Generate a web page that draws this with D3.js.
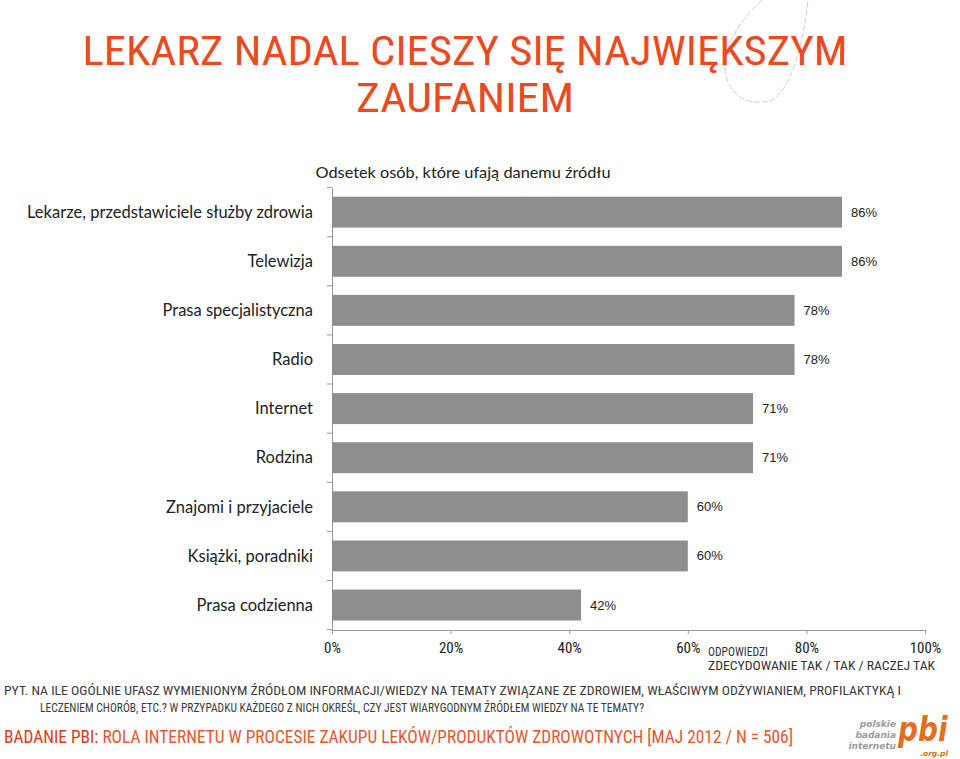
<!DOCTYPE html>
<html><head><meta charset="utf-8">
<script src="https://cdn.jsdelivr.net/npm/d3@7"></script>
<style>
html,body{margin:0;padding:0;background:#fff;}
svg{display:block;}
</style></head>
<body>
<script>
const categories = ["Lekarze, przedstawiciele służby zdrowia","Telewizja","Prasa specjalistyczna","Radio","Internet","Rodzina","Znajomi i przyjaciele","Książki, poradniki","Prasa codzienna"];
const values = [86,86,78,78,71,71,60,60,42];
const valueLabels = ["86%","86%","78%","78%","71%","71%","60%","60%","42%"];
const tickValues = [0,20,40,60,80,100];
const tickLabels = ["0%","20%","40%","60%","80%","100%"];
const titleLines = ["LEKARZ NADAL CIESZY SIĘ NAJWIĘKSZYM","ZAUFANIEM"];
const subtitle = "Odsetek osób, które ufają danemu źródłu";
const axisNote = ["ODPOWIEDZI","ZDECYDOWANIE TAK / TAK / RACZEJ TAK"];
const question = ["PYT. NA ILE OGÓLNIE UFASZ WYMIENIONYM ŹRÓDŁOM INFORMACJI/WIEDZY NA TEMATY ZWIĄZANE ZE ZDROWIEM, WŁAŚCIWYM ODŻYWIANIEM, PROFILAKTYKĄ I","LECZENIEM CHORÓB, ETC.? W PRZYPADKU KAŻDEGO Z NICH OKREŚL, CZY JEST WIARYGODNYM ŹRÓDŁEM WIEDZY NA TE TEMATY?"];
const sourceHead = "BADANIE PBI:";
const sourceRest = " ROLA INTERNETU W PROCESIE ZAKUPU LEKÓW/PRODUKTÓW ZDROWOTNYCH [MAJ 2012 / N = 506]";

const W = 960, H = 759;
const orange = "#EA4A1E";
const cond = "'Liberation Sans Narrow','Roboto Condensed','Liberation Sans',sans-serif";
const body = "Lato,'Open Sans',sans-serif";

const svg = d3.select("body").append("svg").attr("width", W).attr("height", H);

// decorative curve
svg.append("path")
  .attr("d","M762,0 C735,25 718,55 728,82 C735,100 755,106 772,100 C792,88 803,45 808,0")
  .attr("fill","none").attr("stroke","#cfcfcf").attr("stroke-width",1)
  .attr("stroke-dasharray","6,2");

// title
const tl = svg.append("g");
tl.append("text").attr("x",465).attr("y",65).attr("text-anchor","middle")
  .attr("font-family",cond).attr("font-size",40).attr("fill",orange)
  .attr("textLength",765).attr("lengthAdjust","spacingAndGlyphs").text(titleLines[0]);
tl.append("text").attr("x",465).attr("y",112).attr("text-anchor","middle")
  .attr("font-family",cond).attr("font-size",40).attr("fill",orange)
  .attr("textLength",218).attr("lengthAdjust","spacingAndGlyphs").text(titleLines[1]);

svg.append("text").attr("x",463).attr("y",178).attr("text-anchor","middle")
  .attr("font-family",body).attr("font-size",16).attr("fill","#222")
  .attr("textLength",295).attr("lengthAdjust","spacingAndGlyphs").text(subtitle);

// scales
const x = d3.scaleLinear().domain([0,100]).range([332,925]);
const y = d3.scaleBand().domain(categories).range([187.6,629.6]).paddingInner(0.37).paddingOuter(0.185);

// x axis
const xAxis = d3.axisBottom(x).tickValues(tickValues).tickSize(4).tickFormat((d,i)=>tickLabels[i]);
const gx = svg.append("g").attr("transform","translate(0,630)").call(xAxis);
gx.select(".domain").attr("stroke","#999");
gx.selectAll(".tick line").attr("stroke","#999");
gx.selectAll(".tick text").attr("font-family",cond).attr("font-size",15).attr("fill","#222").attr("dy","1.05em");

// y axis
const yAxis = d3.axisLeft(y).tickSize(0).tickFormat("");
const gy = svg.append("g").attr("transform","translate(332,0)").call(yAxis);
gy.select(".domain").attr("stroke","#999");
const step = y.step();
const bounds = d3.range(categories.length+1).map(i => 187.6 + i*step);
svg.append("g").selectAll("line").data(bounds).join("line")
  .attr("x1",327).attr("x2",332).attr("y1",d=>d).attr("y2",d=>d).attr("stroke","#999");

// category labels
svg.append("g").selectAll("text").data(categories).join("text")
  .attr("x",313).attr("y",d=>y(d)+y.bandwidth()/2).attr("dy","0.35em")
  .attr("text-anchor","end").attr("font-family",body).attr("font-size",16.5).attr("fill","#222")
  .text(d=>d);

// bars
svg.append("g").selectAll("rect").data(values).join("rect")
  .attr("x",x(0)).attr("y",(d,i)=>y(categories[i]))
  .attr("width",d=>x(d)-x(0)).attr("height",y.bandwidth())
  .attr("fill","#8e8e8e");

// value labels
svg.append("g").selectAll("text").data(values).join("text")
  .attr("x",d=>x(d)+9).attr("y",(d,i)=>y(categories[i])+y.bandwidth()/2).attr("dy","0.35em")
  .attr("font-family","'Liberation Sans',Arial,sans-serif").attr("font-size",13).attr("fill","#222")
  .text((d,i)=>valueLabels[i]);

// axis note
svg.append("text").attr("x",708).attr("y",656).attr("font-family",cond).attr("font-size",12).attr("fill","#333")
  .attr("textLength",60).attr("lengthAdjust","spacingAndGlyphs").text(axisNote[0]);
svg.append("text").attr("x",708).attr("y",670).attr("font-family",cond).attr("font-size",12).attr("fill","#333")
  .attr("textLength",227).attr("lengthAdjust","spacingAndGlyphs").text(axisNote[1]);

// question
svg.append("text").attr("x",4).attr("y",695).attr("font-family",cond).attr("font-size",12.5).attr("fill","#3a3a3a")
  .attr("textLength",897).attr("lengthAdjust","spacingAndGlyphs").text(question[0]);
svg.append("text").attr("x",40).attr("y",712).attr("font-family",cond).attr("font-size",12.5).attr("fill","#3a3a3a")
  .attr("textLength",604).attr("lengthAdjust","spacingAndGlyphs").text(question[1]);

// source
const src = svg.append("text").attr("x",4).attr("y",743).attr("font-family",cond).attr("font-size",17.5)
  .attr("textLength",789).attr("lengthAdjust","spacingAndGlyphs");
src.append("tspan").attr("fill","#E03A14").text(sourceHead);
src.append("tspan").attr("fill","#E8562E").text(sourceRest);

// logo
const logo = svg.append("g");
["polskie","badania","internetu"].forEach((t,i)=>{
  logo.append("text").attr("x",896).attr("y",727+i*11).attr("text-anchor","end")
    .attr("font-family","'DejaVu Sans',sans-serif").attr("font-style","italic").attr("font-weight","bold")
    .attr("font-size",9).attr("fill","#9a9a9a").text(t);
});
logo.append("text").attr("transform","translate(898,741) scale(0.82,1)")
  .attr("font-family","'DejaVu Sans',sans-serif").attr("font-style","italic").attr("font-weight","bold")
  .attr("font-size",34).attr("fill","#E07020").text("pbi");
logo.append("text").attr("x",948).attr("y",756).attr("text-anchor","end")
  .attr("font-family","'DejaVu Sans',sans-serif").attr("font-style","italic").attr("font-weight","bold")
  .attr("font-size",7.5).attr("fill","#E07020").text(".org.pl");
</script>
</body></html>
